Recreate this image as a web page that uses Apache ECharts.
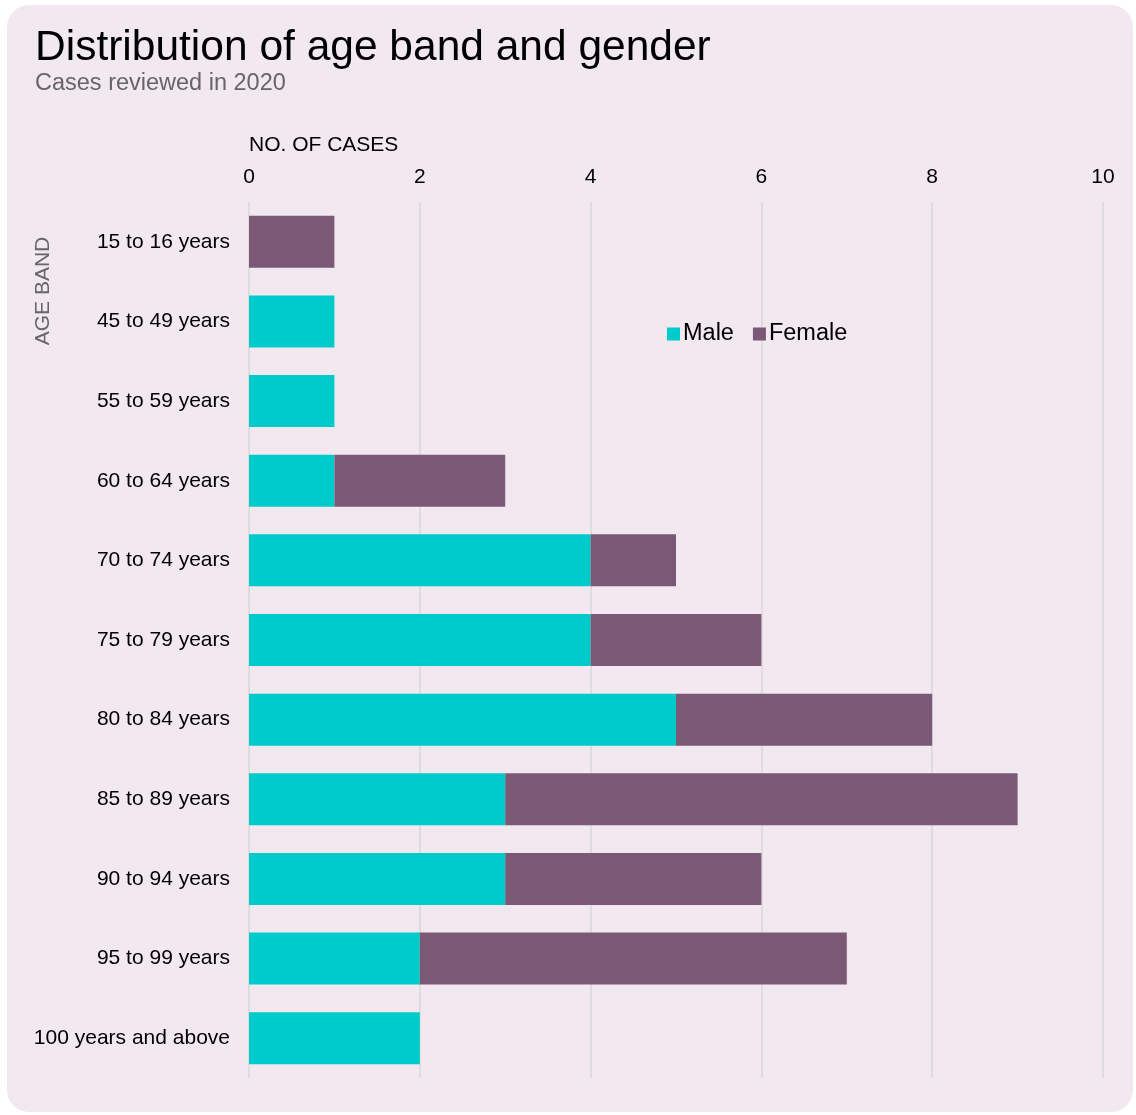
<!DOCTYPE html>
<html>
<head>
<meta charset="utf-8">
<script src="https://cdn.jsdelivr.net/npm/echarts@6/dist/echarts.min.js"></script>
<style>
  html, body { margin: 0; padding: 0; background: #ffffff; }
  .card {
    position: absolute; left: 7px; top: 5px; width: 1126px; height: 1107px;
    background: #f2e8f0; border-radius: 22px;
  }
  #chart { position: absolute; left: 0; top: 0; width: 1136px; height: 1115px; }
</style>
</head>
<body>
<div class="card"></div>
<div id="chart"></div>
<script>
const ageBands = [
  '15 to 16 years', '45 to 49 years', '55 to 59 years', '60 to 64 years',
  '70 to 74 years', '75 to 79 years', '80 to 84 years', '85 to 89 years',
  '90 to 94 years', '95 to 99 years', '100 years and above'
];
const maleCases = [0, 1, 1, 1, 4, 4, 5, 3, 3, 2, 2];
const femaleCases = [1, 0, 0, 2, 1, 2, 3, 6, 3, 5, 0];

const font = 'Liberation Sans, Arial, sans-serif';
const chart = echarts.init(document.getElementById('chart'));

const option = {
  backgroundColor: 'transparent',
  textStyle: { fontFamily: font },
  title: {
    text: 'Distribution of age band and gender',
    subtext: 'Cases reviewed in 2020',
    left: 30,
    top: 22,
    itemGap: 2,
    textStyle: { fontSize: 42.5, fontWeight: 'normal', color: '#000000', fontFamily: font },
    subtextStyle: { fontSize: 23.5, color: '#666666', fontFamily: font }
  },
  legend: {
    data: ['Male', 'Female'],
    left: 662,
    top: 317,
    icon: 'rect',
    itemWidth: 13,
    itemHeight: 13,
    itemGap: 19,
    textStyle: { fontSize: 23.5, color: '#000000', padding: [0, 0, 0, -2] }
  },
  grid: { left: 249, right: 33, top: 202, bottom: 37 },
  xAxis: {
    type: 'value',
    position: 'top',
    min: 0,
    max: 10,
    interval: 2,
    axisLine: { show: false },
    axisTick: { show: false },
    axisLabel: { fontSize: 21, color: '#000000', margin: 14 },
    splitLine: { lineStyle: { color: '#d9d9d9', width: 1.5 } }
  },
  yAxis: {
    type: 'category',
    data: ageBands,
    inverse: true,
    axisLine: { show: false },
    axisTick: { show: false },
    axisLabel: { fontSize: 21, color: '#000000', margin: 19 }
  },
  graphic: [
    {
      type: 'text',
      left: 249,
      top: 135,
      style: { text: 'NO. OF CASES', fontSize: 21, fill: '#000000', fontFamily: font }
    },
    {
      type: 'text',
      x: 43,
      y: 291,
      rotation: Math.PI / 2,
      style: {
        text: 'AGE BAND', fontSize: 21, fill: '#666666', fontFamily: font,
        align: 'center', verticalAlign: 'middle'
      }
    }
  ],
  series: [
    {
      name: 'Male',
      type: 'bar',
      stack: 'total',
      data: maleCases,
      barWidth: 52,
      itemStyle: { color: '#00cbcb' }
    },
    {
      name: 'Female',
      type: 'bar',
      stack: 'total',
      data: femaleCases,
      barWidth: 52,
      itemStyle: { color: '#7a5876' }
    }
  ]
};

chart.setOption(option);
</script>
</body>
</html>
